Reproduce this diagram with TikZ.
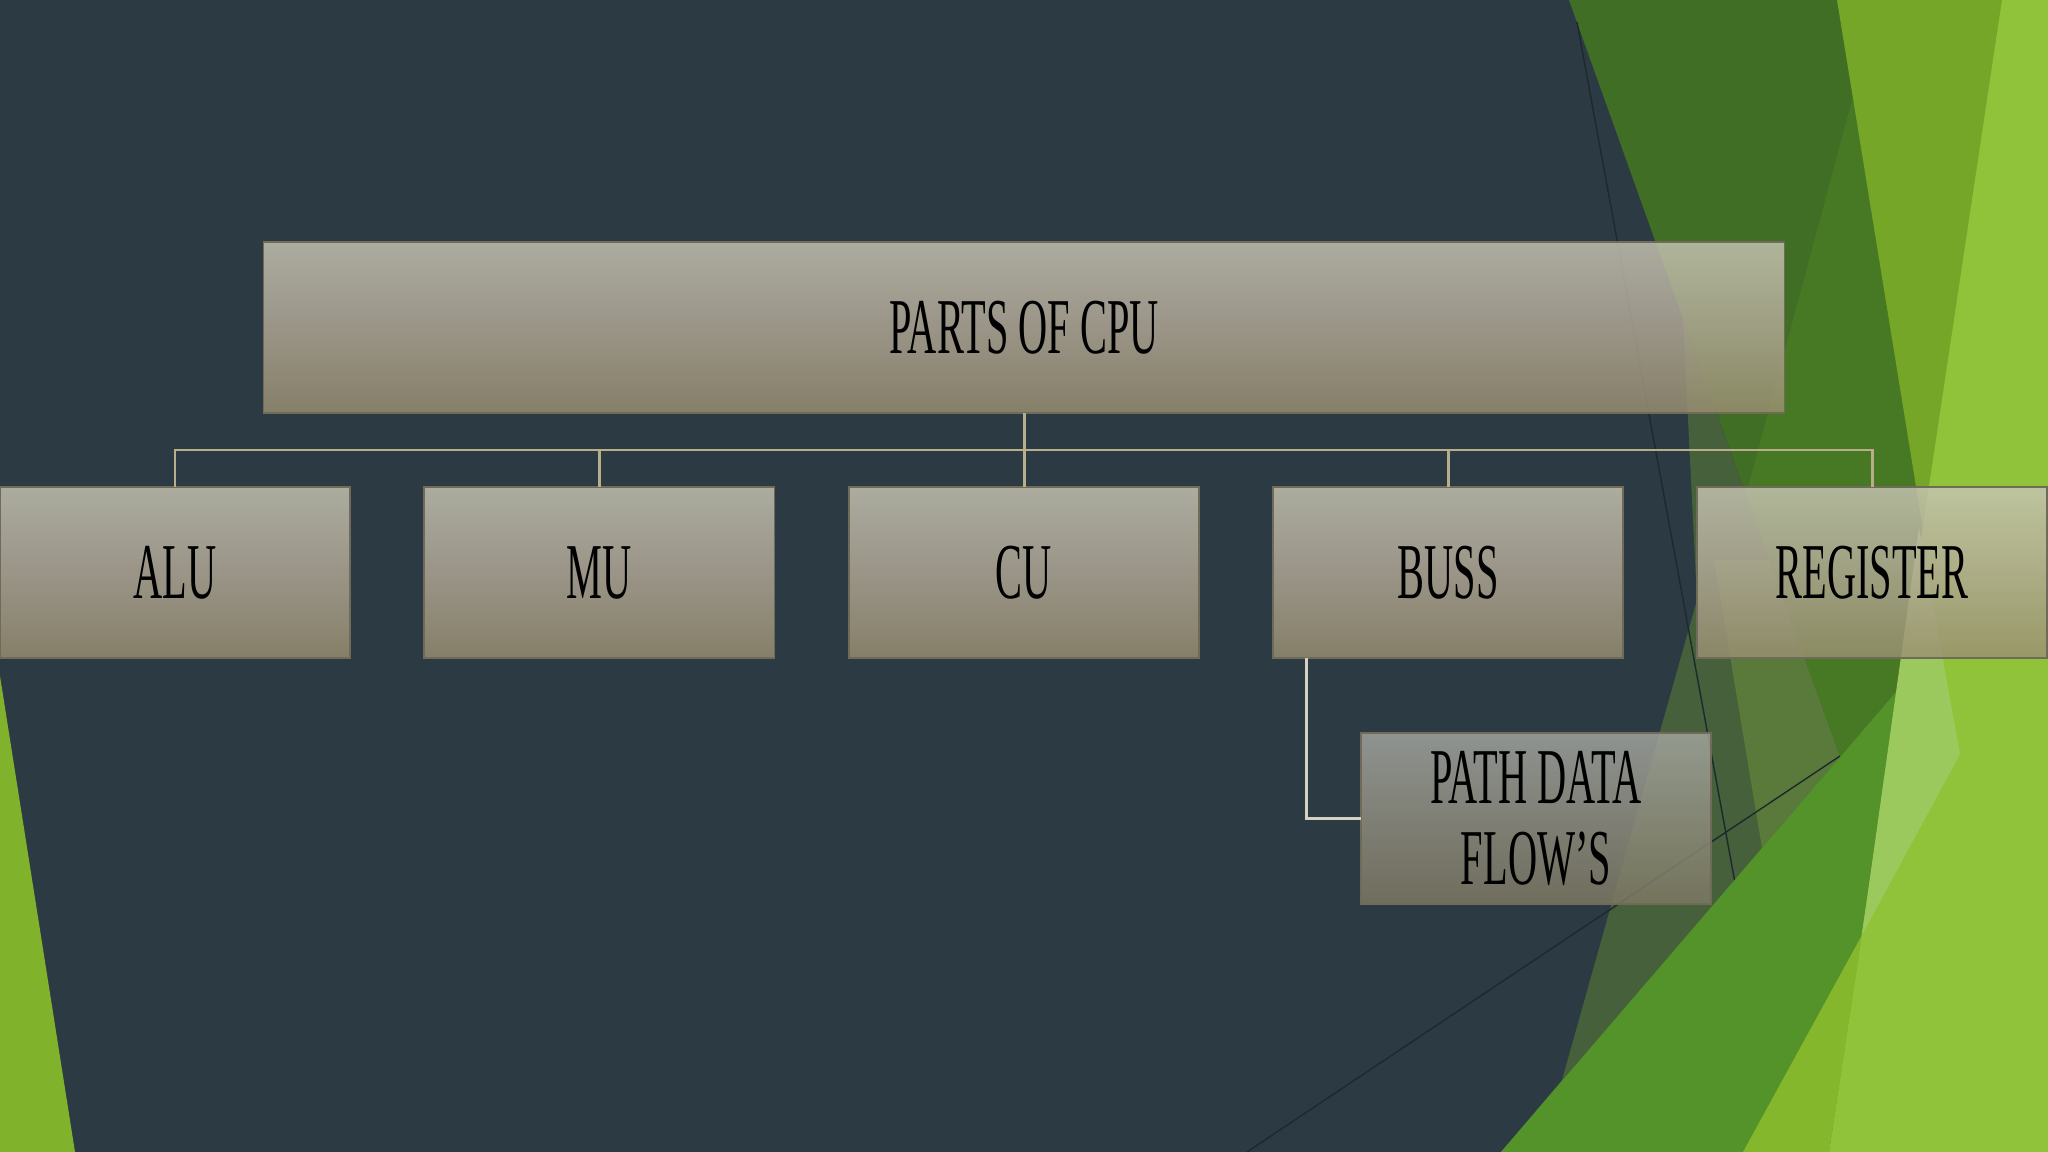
\documentclass[tikz,border=0pt]{standalone}
\usepackage{fontspec}
\newfontfamily\cpufont[FakeStretch=0.51]{Liberation Serif}
\usetikzlibrary{calc}
\definecolor{slate}{HTML}{2C3B43}
\definecolor{leftgreen}{HTML}{80B22B}
\definecolor{dkgreen}{HTML}{406E24}
\definecolor{dkgreenb}{HTML}{477823}
\definecolor{muted}{HTML}{45603B}
\definecolor{olive}{HTML}{5A7A3C}
\definecolor{medgreen}{HTML}{54922A}
\definecolor{band}{HTML}{75A628}
\definecolor{bright}{HTML}{90C33A}
\definecolor{brightb}{HTML}{84B72B}
\definecolor{lightg}{HTML}{9CC95E}
\definecolor{thinline}{HTML}{1E282E}
\definecolor{boxtop}{HTML}{C8C5B4}
\definecolor{boxmid}{HTML}{B3A997}
\definecolor{boxbot}{HTML}{9A8F71}
\definecolor{pathtop}{HTML}{A5A7A1}
\definecolor{pathmid}{HTML}{928F81}
\definecolor{pathbot}{HTML}{7F7964}
\definecolor{boxedge}{HTML}{6F6B58}
\definecolor{conncol}{HTML}{B8AE8A}
\definecolor{conncolb}{HTML}{D5D2C4}
\tikzset{
  box/.style={rectangle, inner sep=0pt, outer sep=0pt, draw=boxedge, line width=0.5pt,
    fill opacity=0.82, text opacity=1, top color=boxtop, bottom color=boxbot, middle color=boxmid,
    font=\cpufont\fontsize{22.5}{23.3}\selectfont, align=center, text=black},
  childbox/.style={box, minimum width=3.5cm, minimum height=1.71cm},
  pathbox/.style={childbox, top color=pathtop, bottom color=pathbot, middle color=pathmid},
  conn/.style={draw=conncol, line width=0.85pt},
  connb/.style={draw=conncolb, line width=0.85pt},
  facetline/.style={draw=thinline, line width=0.4pt}
}
\begin{document}
\begin{tikzpicture}[x=0.01cm,y=-0.01cm]
\useasboundingbox (0,0) rectangle (2048,1152);
% background
\fill[slate] (0,0) rectangle (2048,1152);
\fill[leftgreen] (0,676) -- (75,1152) -- (0,1152) -- cycle;
\fill[dkgreen] (1569,0) -- (2048,0) -- (2048,1152) -- (1981,1152) -- cycle;
\fill[dkgreenb] (1852,100) -- (1746,495) -- (1981,1152) -- (2048,1152) -- (2048,100) -- cycle;
\fill[muted] (1683,319) -- (1697,600) -- (1562,1080) -- (1501,1152) -- (1981,1152) -- cycle;
\fill[olive] (1714,560) -- (1769,560) -- (1840,757) -- (1762,848) -- cycle;
\draw[facetline] (1577,22) -- (1740,910);
\draw[facetline] (1247,1152) -- (1840,756);
\fill[medgreen] (1501,1152) -- (2048,515) -- (2048,1152) -- cycle;
\fill[band] (1837,0) -- (2048,0) -- (2048,1152) -- (2024,1152) -- cycle;
\fill[bright] (2002,0) -- (2048,0) -- (2048,1152) -- (1829,1152) -- cycle;
\fill[brightb] (1862,935) -- (1829,1152) -- (1743,1152) -- cycle;
\fill[lightg] (1919,528) -- (1960,754) -- (1862,935) -- cycle;
% boxes
\node[box, minimum width=15.2cm, minimum height=1.715cm] (root) at (1024,327.5) {PARTS OF CPU};
\node[childbox] (alu) at (175,572.5) {ALU};
\node[childbox] (mu) at (599.3,572.5) {MU};
\node[childbox] (cu) at (1024,572.5) {CU};
\node[childbox] (buss) at (1448,572.5) {BUSS};
\node[childbox] (reg) at (1872,572.5) {REGISTER};
\node[pathbox] (path) at (1536,818.5) {PATH DATA\\FLOW’S};
% connectors
\coordinate (hub) at (1024,450);
\draw[conn] (root.south) -- (hub);
\draw[conn] (alu.north) -- (alu.north |- hub) -- (reg.north |- hub) -- (reg.north);
\draw[conn] (mu.north) -- (mu.north |- hub);
\draw[conn] (cu.north) -- (hub);
\draw[conn] (buss.north) -- (buss.north |- hub);
\draw[connb] ($(buss.south west)+(34,0)$) |- (path.west);
\end{tikzpicture}
\end{document}
